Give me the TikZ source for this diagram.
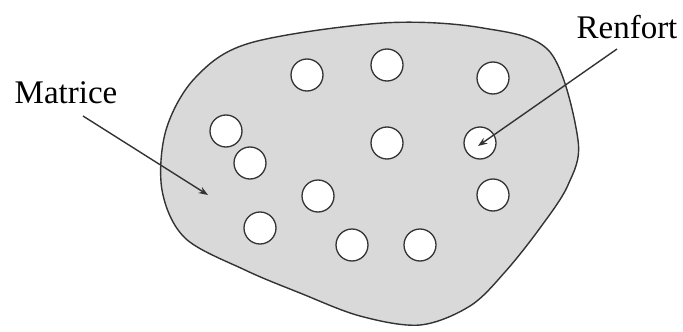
\documentclass[tikz,border=0pt]{standalone}
\usepackage{fontspec}
\setmainfont{Liberation Serif}
\usepackage{tikz}
\usetikzlibrary{arrows.meta, positioning}
\usepackage{xcolor}
\definecolor{Matrix}{HTML}{D9D9D9}
\definecolor{Edge}{HTML}{333333}

\begin{document}
\begin{tikzpicture}[>=Stealth, x=1pt, y=-1pt, font=\fontsize{33}{36}\selectfont]
  \useasboundingbox (0,0) rectangle (683,332);
  % matrix region
  \filldraw[fill=Matrix, draw=Edge, line width=1.4pt]
    plot[smooth cycle, tension=0.55] coordinates {
      (383,23) (483,28) (550,52) (578,140) (568,185) (540,228)
      (505,272) (470,306) (420,325) (360,316) (300,293) (245,270) (185,238)
      (162,190) (166,130) (195,78) (250,43)};
  % reinforcements
  \foreach \n/\x/\y in {1/307/75, 2/387/65, 3/493/78, 4/226/131, 5/250/163,
      6/387/143, 7/480/143, 8/318/196, 9/493/195, 10/260/228, 11/352/245, 12/420/245} {
    \node[circle, draw=Edge, fill=white, line width=1.3pt, minimum size=32pt,
      inner sep=0pt] (c\n) at (\x,\y) {};
  }
  \node (mat) at (66,93) {Matrice};
  \node (ren) at (627,27) {Renfort};
  \coordinate (mtip) at (208,195);
  \coordinate (mstart) at (83,116);
  \coordinate (rstart) at (617,49);
  \draw[->, line width=1.4pt, Edge] (mstart) -- (mtip);
  \draw[->, line width=1.4pt, Edge] (rstart) -- ([shift={(-2,3)}]c7.center);
\end{tikzpicture}
\end{document}
